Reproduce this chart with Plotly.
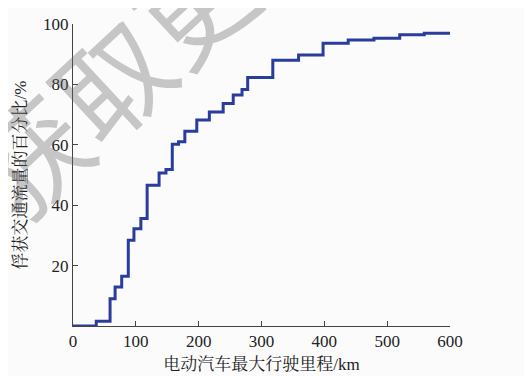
import plotly.graph_objects as go

range_km = [0, 37, 59, 67, 77.5, 88, 97, 108, 118, 137, 148, 158, 168, 178, 197, 217,
            239, 255, 269, 278, 318, 359, 398, 438, 479, 520, 559, 600]
captured_pct = [0, 1.6, 9.0, 12.9, 16.5, 28.4, 32.2, 35.6, 46.6, 50.7, 51.8, 60.2, 61.0,
                64.5, 68.2, 70.9, 73.7, 76.5, 78.3, 82.3, 88.0, 89.7, 93.6, 94.7, 95.3,
                96.4, 96.9, 96.9]
x_ticks = [0, 100, 200, 300, 400, 500, 600]
y_ticks = [20, 40, 60, 80, 100]

fig = go.Figure()
fig.add_trace(go.Scatter(x=range_km, y=captured_pct, mode="lines", line_shape="hv",
                         line=dict(color="#2a3d9c", width=3), showlegend=False))

serif = "Times New Roman, Liberation Serif, Noto Serif CJK SC, Noto Sans CJK SC, serif"
fig.update_layout(
    width=532, height=376,
    margin=dict(l=65, r=90, t=16, b=58, autoexpand=False),
    paper_bgcolor="#fbfbfb", plot_bgcolor="#fbfbfb",
    font=dict(family=serif, size=17, color="#222"),
    xaxis=dict(range=[0, 600], tickvals=x_ticks, ticks="inside", ticklen=5,
               tickcolor="#444", showline=True, linecolor="#444", linewidth=1,
               showgrid=False, zeroline=False, automargin=False,
               title=dict(text="电动汽车最大行驶里程/km", standoff=7,
                          font=dict(family=serif, size=17))),
    yaxis=dict(range=[0, 100], tickvals=y_ticks, ticks="inside", ticklen=5,
               tickcolor="#444", showline=True, linecolor="#444", linewidth=1,
               showgrid=False, zeroline=False, automargin=False,
               title=dict(text="俘获交通流量的百分比/%", standoff=12,
                          font=dict(family=serif, size=17))),
    annotations=[dict(text="获取更", xref="paper", yref="paper", x=0.096, y=0.826,
                      xanchor="center", yanchor="middle",
                      showarrow=False, textangle=-43,
                      font=dict(family="Noto Sans CJK SC", size=112,
                                color="rgba(100,100,100,0.35)"))],
)
fig.write_html("out.html")
